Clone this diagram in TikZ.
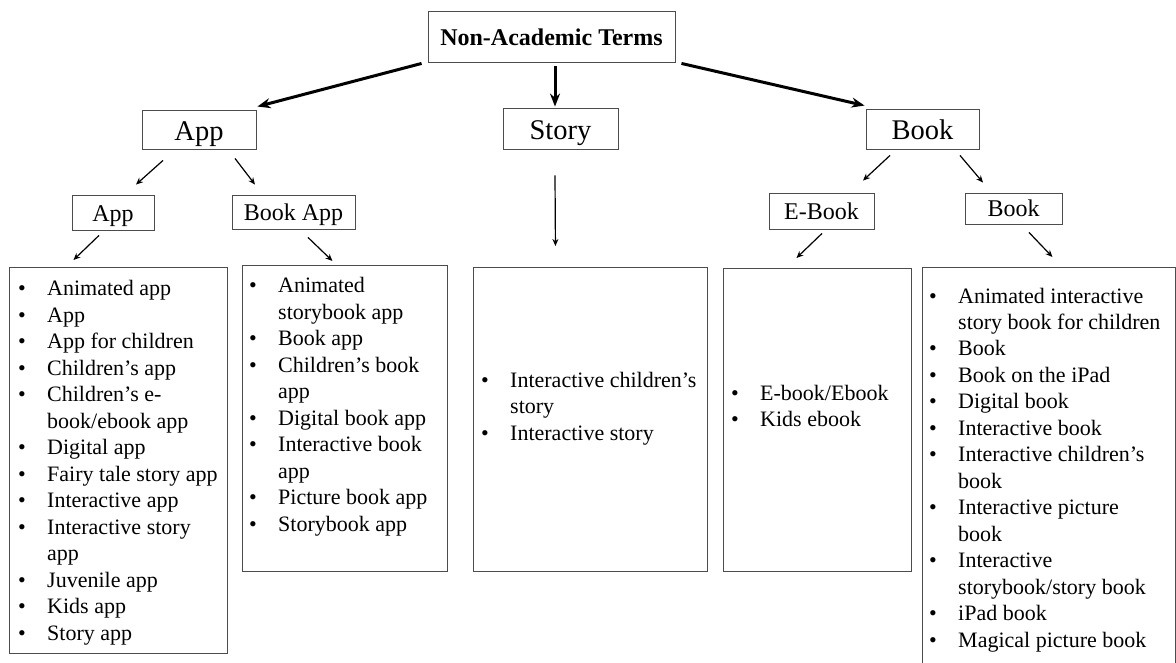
\documentclass[tikz,border=0pt]{standalone}
\usepackage{fontspec}
\setmainfont{Liberation Serif}
\usetikzlibrary{arrows.meta}
\newcommand{\termlist}[1]{\begin{tabular}[t]{@{}p{29pt}@{}l@{}}#1\end{tabular}}

\begin{document}
\begin{tikzpicture}[x = 1pt, y = -1pt,
        box/.style = {draw = black!70, line width = 0.9pt, inner sep = 0pt},
        head/.style = {box, font = \fontsize{28.5}{30}\selectfont, text height = 21.5pt, text depth = 0pt},
        sub/.style = {box, font = \fontsize{24}{26}\selectfont, text height = 18pt, text depth = 0pt},
        listbox/.style = {box, anchor = north west},
        listtext/.style = {anchor = base west, inner sep = 0pt, font = \fontsize{22}{26.5}\selectfont},
        bigarrow/.style = {-{Stealth[length = 13pt, width = 10pt]}, line width = 3pt},
        smallarrow/.style = {-{Stealth[length = 7pt, width = 6pt]}, line width = 1.2pt}]
        \useasboundingbox (0, 0) rectangle (1176, 663);
        \node[box, font = \bfseries\fontsize{24}{26}\selectfont, text height = 18.4pt, text depth = 0pt, minimum width = 247pt, minimum height = 51pt] (terms) at (551.5, 36.5) {Non-Academic Terms};
        \node[head, minimum width = 114pt, minimum height = 39pt] (app) at (199, 129.5) {App};
        \node[head, minimum width = 115pt, minimum height = 41pt] (story) at (560.5, 128.5) {Story};
        \node[head, minimum width = 113pt, minimum height = 40pt] (book) at (922.5, 129) {Book};
        \node[sub, minimum width = 82pt, minimum height = 35pt] (appsub) at (113, 212.5) {App};
        \node[sub, minimum width = 123pt, minimum height = 34pt] (bookapp) at (293.5, 212) {Book App};
        \node[sub, minimum width = 105pt, minimum height = 36pt, text height = 16.5pt] (ebook) at (821.5, 211) {E-Book};
        \node[sub, minimum width = 97pt, minimum height = 31pt, text height = 16.5pt] (booksub) at (1013.5, 208.5) {Book};
        \node[listbox, minimum width = 218pt, minimum height = 386pt] (applist) at (9, 267) {};
        \node[listbox, minimum width = 205pt, minimum height = 306pt] (bookapplist) at (242, 265) {};
        \node[listbox, minimum width = 234pt, minimum height = 304pt] (storylist) at (473, 267) {};
        \node[listbox, minimum width = 188pt, minimum height = 303pt] (ebooklist) at (723, 268) {};
        \node[listbox, minimum width = 253pt, minimum height = 440pt] (booklist) at (922, 267) {};
        \node[listtext] (appitems) at ([shift = {(9, 29)}]applist.north west) {\termlist{
                \textbullet & Animated app\\
                \textbullet & App\\
                \textbullet & App for children\\
                \textbullet & Children's app\\
                \textbullet & Children's e-\\
                & book/ebook app\\
                \textbullet & Digital app\\
                \textbullet & Fairy tale story app\\
                \textbullet & Interactive app\\
                \textbullet & Interactive story\\
                & app\\
                \textbullet & Juvenile app\\
                \textbullet & Kids app\\
                \textbullet & Story app}};
        \node[listtext] (bookappitems) at ([shift = {(7, 28)}]bookapplist.north west) {\termlist{
                \textbullet & Animated\\
                & storybook app\\
                \textbullet & Book app\\
                \textbullet & Children's book\\
                & app\\
                \textbullet & Digital book app\\
                \textbullet & Interactive book\\
                & app\\
                \textbullet & Picture book app\\
                \textbullet & Storybook app}};
        \node[listtext] (storyitems) at ([shift = {(8, 120)}]storylist.north west) {\termlist{
                \textbullet & Interactive children's\\
                & story\\
                \textbullet & Interactive story}};
        \node[listtext] (ebookitems) at ([shift = {(8, 132)}]ebooklist.north west) {\termlist{
                \textbullet & E-book/Ebook\\
                \textbullet & Kids ebook}};
        \node[listtext] (bookitems) at ([shift = {(7, 36)}]booklist.north west) {\termlist{
                \textbullet & Animated interactive\\
                & story book for children\\
                \textbullet & Book\\
                \textbullet & Book on the iPad\\
                \textbullet & Digital book\\
                \textbullet & Interactive book\\
                \textbullet & Interactive children's\\
                & book\\
                \textbullet & Interactive picture\\
                & book\\
                \textbullet & Interactive\\
                & storybook/story book\\
                \textbullet & iPad book\\
                \textbullet & Magical picture book}};
        \draw[bigarrow] ([shift = {(-6, 1)}]terms.south west) -- ([shift = {(1, -3)}]app.north east);
        \draw[bigarrow] ([shift = {(3.5, 4)}]terms.south) -- ([shift = {(-5.5, -1)}]story.north);
        \draw[bigarrow] ([shift = {(6, 1)}]terms.south east) -- ([shift = {(-1, -3)}]book.north west);
        \draw[smallarrow] ([shift = {(-36, 11)}]app.south) -- ([shift = {(23, -10)}]appsub.north);
        \draw[smallarrow] ([shift = {(36, 9)}]app.south) -- ([shift = {(-38.5, -10)}]bookapp.north);
        \draw[smallarrow] ([shift = {(-32.5, 6)}]book.south) -- ([shift = {(41.5, -12)}]ebook.north);
        \draw[smallarrow] ([shift = {(37.5, 6)}]book.south) -- ([shift = {(-30.5, -10)}]booksub.north);
        \draw[smallarrow] ([shift = {(-14, 5)}]appsub.south) -- ([shift = {(-45, -7)}]applist.north);
        \draw[smallarrow] ([shift = {(14.5, 8)}]bookapp.south) -- ([shift = {(-12.5, -4)}]bookapplist.north);
        \draw[smallarrow] ([shift = {(-5.5, 26)}]story.south) -- ([shift = {(-35, -21)}]storylist.north);
        \draw[smallarrow] ([shift = {(0.5, 4)}]ebook.south) -- ([shift = {(-21, -10)}]ebooklist.north);
        \draw[smallarrow] ([shift = {(15.5, 8)}]booksub.south) -- ([shift = {(3.5, -10)}]booklist.north);
    \end{tikzpicture}
\end{document}
